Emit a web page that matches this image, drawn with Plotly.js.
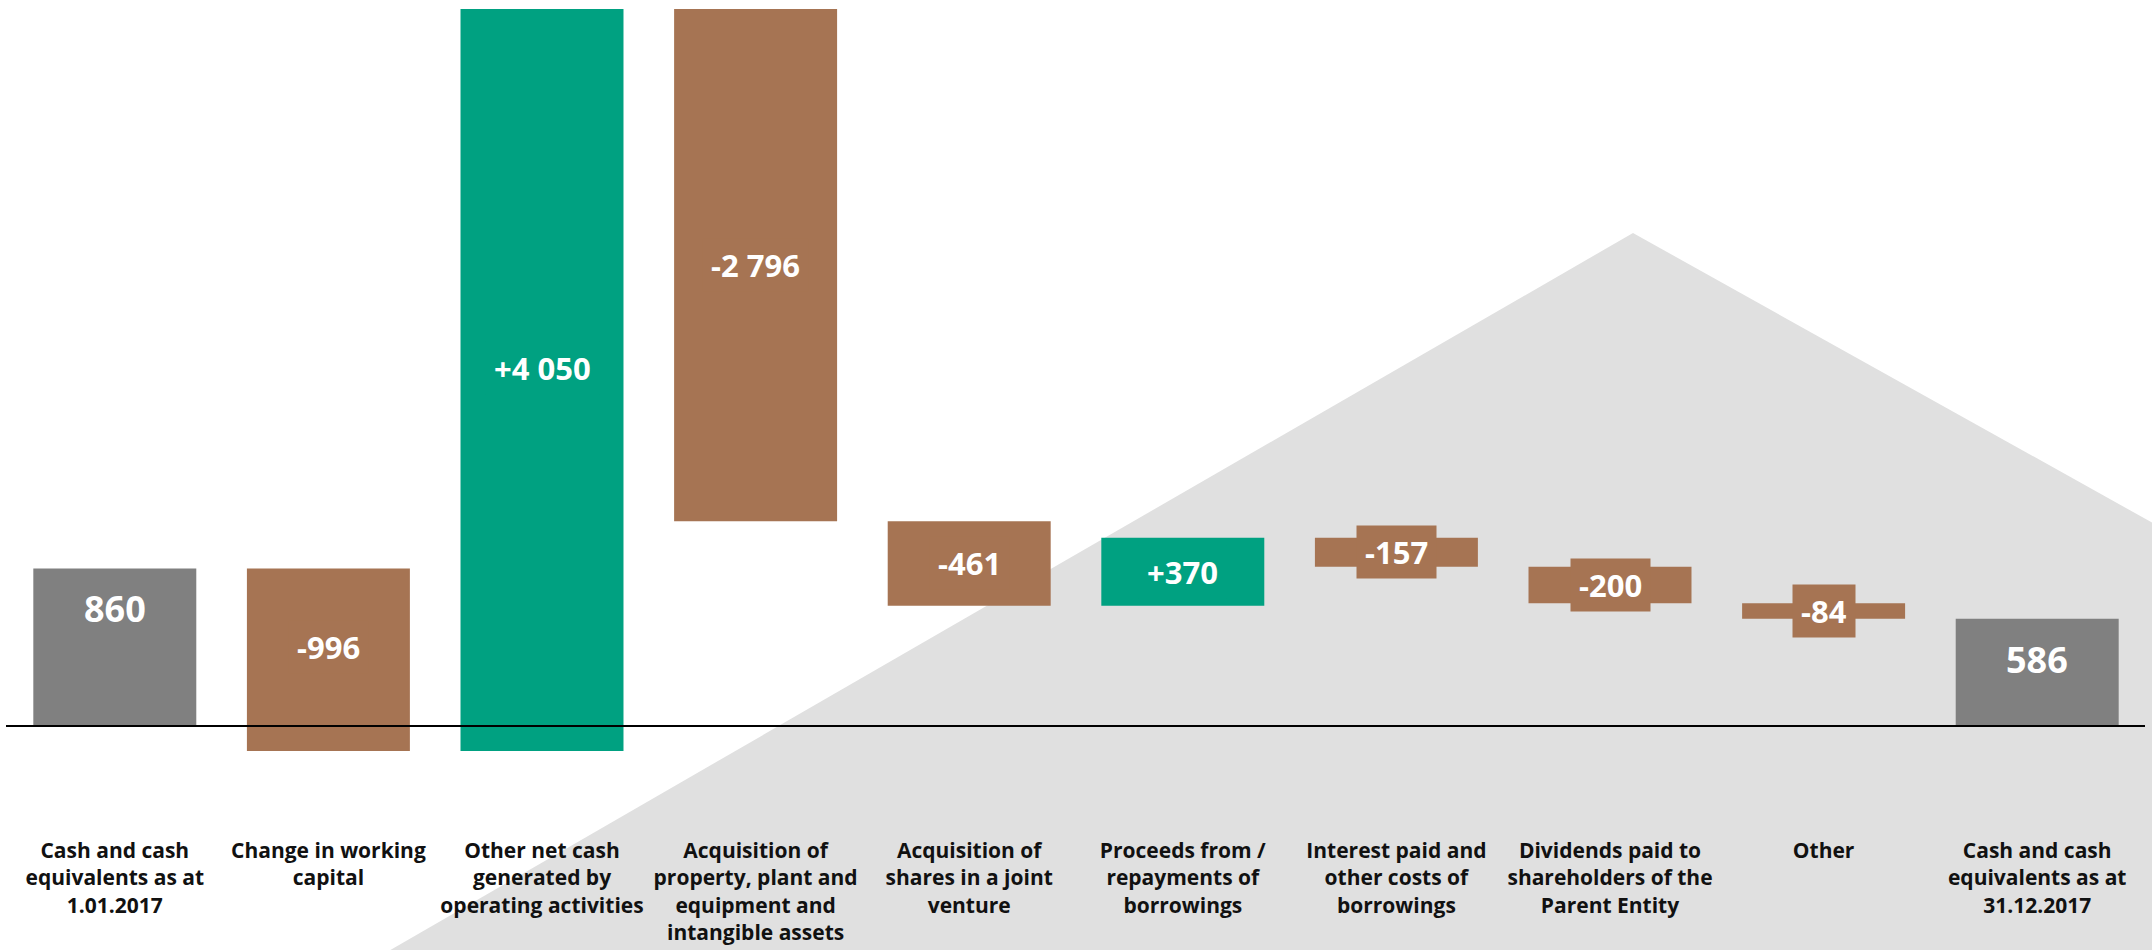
<!DOCTYPE html>
<html>
<head>
<meta charset="utf-8">
<script src="https://cdn.plot.ly/plotly-3.0.1.min.js"></script>
<style>
  html, body { margin: 0; padding: 0; background: #ffffff; }
  #chart { width: 2152px; height: 950px; }
</style>
</head>
<body>
<div id="chart"></div>
<script>
// ---- data ----
const categories = [
  "Cash and cash<br>equivalents as at<br>1.01.2017",
  "Change in working<br>capital",
  "Other net cash<br>generated by<br>operating activities",
  "Acquisition of<br>property, plant and<br>equipment and<br>intangible assets",
  "Acquisition of<br>shares in a joint<br>venture",
  "Proceeds from /<br>repayments of<br>borrowings",
  "Interest paid and<br>other costs of<br>borrowings",
  "Dividends paid to<br>shareholders of the<br>Parent Entity",
  "Other",
  "Cash and cash<br>equivalents as at<br>31.12.2017"
];
const values = [860, -996, 4050, -2796, -461, 370, -157, -200, -84, 586];
const measures = ["absolute", "relative", "relative", "relative", "relative",
                  "relative", "relative", "relative", "relative", "total"];

// ---- styles ----
const GREY = "#808080", BROWN = "#a67453", GREEN = "#00a181", BG = "#e0e0e0";
const W = 2152, H = 950;
const M = { l: 8, r: 8, t: 9, b: 114 };
const plotW = W - M.l - M.r, plotH = H - M.t - M.b;

// label formatting
function fmt(v, signed) {
  const a = Math.abs(v).toString().replace(/\B(?=(\d{3})+(?!\d))/g, " ");
  if (v < 0) return "-" + a;
  return (signed ? "+" : "") + a;
}

// running levels
let level = 0;
const annotations = [];
const totalFont = { family: "Open Sans", size: 36, color: "#ffffff", weight: 700 };
values.forEach((v, i) => {
  const m = measures[i];
  if (m === "absolute" || m === "total") {
    if (m === "absolute") level = v;
    annotations.push({ x: categories[i], y: level, xref: "x", yref: "y", yanchor: "top",
      yshift: -14, text: fmt(level, false), showarrow: false, font: totalFont });
  } else {
    const start = level;
    level = level + v;
    const lo = Math.max(0, Math.min(start, level)), hi = Math.max(start, level);
    annotations.push({ x: categories[i], y: (lo + hi) / 2, xref: "x", yref: "y",
      yanchor: "middle", text: fmt(v, true), showarrow: false,
      bgcolor: v < 0 ? BROWN : GREEN, borderpad: 8, height: 36,
      font: { family: "Open Sans", size: 31, color: "#ffffff", weight: 700 } });
  }
});

// y-range: top = peak of running sum
let run = 0, peak = 0;
values.forEach((v, i) => { if (measures[i] === "absolute") run = v; else if (measures[i] === "relative") run += v; peak = Math.max(peak, run); });
const pxPerUnit = (726 - M.t) / peak;
const yMin = -(plotH - (726 - M.t)) / pxPerUnit;

// background polygon (page pixels -> paper coords)
const px = X => (X - M.l) / plotW;
const py = Y => 1 - (Y - M.t) / plotH;
const poly = [[380, 956], [1633, 233], [2160, 527], [2160, 956]];
const path = poly.map((p, k) => (k ? "L" : "M") + px(p[0]).toFixed(5) + "," + py(p[1]).toFixed(5)).join(" ") + " Z";

const trace = {
  type: "waterfall",
  x: categories,
  y: values,
  measure: measures,
  textinfo: "none",
  hoverinfo: "skip",
  connector: { visible: false },
  increasing: { marker: { color: GREEN } },
  decreasing: { marker: { color: BROWN } },
  totals: { marker: { color: GREY } }
};

const layout = {
  width: W, height: H,
  margin: M,
  paper_bgcolor: "#ffffff",
  plot_bgcolor: "rgba(0,0,0,0)",
  showlegend: false,
  waterfallgap: 0.237,
  xaxis: {
    showgrid: false, zeroline: false, showline: false, ticks: "",
    tickfont: { family: "Open Sans", size: 21, color: "#111111", weight: 700 },
    fixedrange: true
  },
  yaxis: {
    range: [yMin, peak], visible: false, showgrid: false, zeroline: false, fixedrange: true
  },
  shapes: [
    { type: "path", xref: "paper", yref: "paper", path: path,
      fillcolor: BG, line: { width: 0 }, layer: "below" },
    { type: "line", xref: "paper", yref: "y", x0: px(6), x1: px(2145), y0: 0, y1: 0,
      line: { color: "#000000", width: 2 }, layer: "above" }
  ],
  annotations: annotations
};

Plotly.newPlot("chart", [trace], layout, { displayModeBar: false, staticPlot: true });
</script>
</body>
</html>
